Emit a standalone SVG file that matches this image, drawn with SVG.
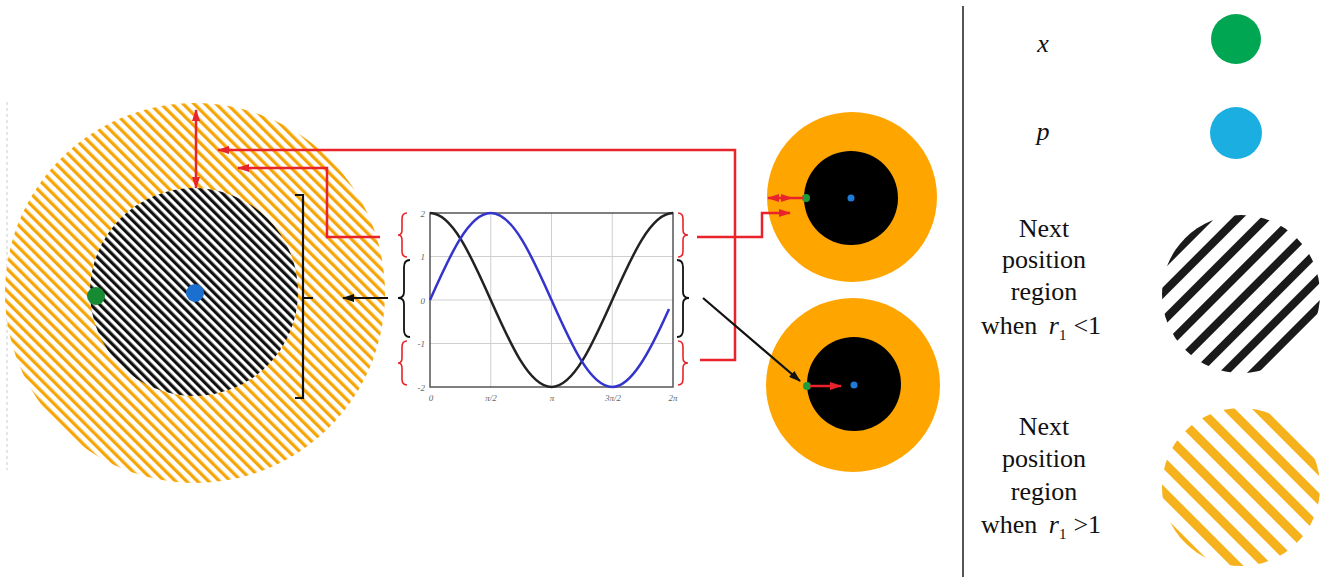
<svg xmlns="http://www.w3.org/2000/svg" width="1329" height="577" viewBox="0 0 1329 577">
<style>
.red{fill:none;stroke:#E8232A;stroke-width:2.5}
.blk{fill:none;stroke:#111;stroke-width:2.2}
.grid{stroke:#cfcfcf;stroke-width:1}
.tick{font-family:"Liberation Serif",serif;font-style:italic;font-size:9px;fill:#666}
.leg{font-family:"Liberation Serif",serif;font-size:26px;fill:#111;text-anchor:middle}
.it{font-style:italic}
</style>
<defs>
<pattern id="hO" width="7.7782" height="7.7782" patternUnits="userSpaceOnUse" patternTransform="rotate(-45)"><rect width="7.7782" height="7.7782" fill="#fff"/><rect width="3.3" height="7.7782" fill="#F6A506"/></pattern>
<pattern id="hB" width="6.364" height="6.364" patternUnits="userSpaceOnUse" patternTransform="rotate(-45)"><rect width="6.364" height="6.364" fill="#fff"/><rect width="3.2" height="6.364" fill="#111"/></pattern>
<pattern id="lB" width="20" height="20" patternUnits="userSpaceOnUse" patternTransform="translate(1241 294) rotate(45)"><rect width="20" height="20" fill="#fff"/><rect width="8" height="20" fill="#1a1a1a"/></pattern>
<pattern id="lO" width="21" height="21" patternUnits="userSpaceOnUse" patternTransform="translate(1241 487) rotate(-45)"><rect width="21" height="21" fill="#fff"/><rect width="9" height="21" fill="#F5B21C"/></pattern>
<marker id="ar" viewBox="0 0 12 8" refX="11" refY="4" markerWidth="12" markerHeight="8" markerUnits="userSpaceOnUse" orient="auto-start-reverse"><path d="M0,0 L12,4 L0,8 Z" fill="#E8232A"/></marker>
<marker id="ak" viewBox="0 0 12 8" refX="11" refY="4" markerWidth="12" markerHeight="8" markerUnits="userSpaceOnUse" orient="auto"><path d="M0,0 L12,4 L0,8 Z" fill="#111"/></marker>
</defs>
<rect width="1329" height="577" fill="#fff"/>

<g id="left-region">
<line x1="7" y1="102" x2="7" y2="470" stroke="#ddd" stroke-width="1.5" stroke-dasharray="3 3"/>
<circle cx="195" cy="293" r="190" fill="url(#hO)"/>
<circle cx="194" cy="292" r="104" fill="url(#hB)"/>
<circle cx="96" cy="296" r="9" fill="#178A34"/>
<circle cx="195" cy="293" r="9" fill="#1B6FCF"/>
<path class="blk" d="M295,195 H303 V398 H295 M303,298 H313"/>
</g>

<g id="graph">
<rect x="430" y="213" width="243" height="174" fill="#fff"/>
<g class="grid">
<line x1="490.75" y1="213" x2="490.75" y2="387"/><line x1="551.5" y1="213" x2="551.5" y2="387"/><line x1="612.25" y1="213" x2="612.25" y2="387"/>
<line x1="430" y1="256.5" x2="673" y2="256.5"/><line x1="430" y1="300" x2="673" y2="300"/><line x1="430" y1="343.5" x2="673" y2="343.5"/>
</g>
<rect x="430" y="213" width="243" height="174" fill="none" stroke="#555" stroke-width="1.5"/>
<path d="M430,213 C451.99,213 470.94,255.43 490.75,300 C510.56,344.57 529.51,387 551.5,387 C573.49,387 592.44,344.57 612.25,300 C632.06,255.43 651.01,213 673,213" fill="none" stroke="#222" stroke-width="2.5"/>
<path d="M430,300 C449.81,255.43 468.76,213 490.75,213 C512.74,213 531.69,255.43 551.5,300 C571.31,344.57 590.26,387 612.25,387 C631.25,387 650,351.6 669,309" fill="none" stroke="#3434CC" stroke-width="2.5"/>
<text class="tick" x="425" y="217" text-anchor="end">2</text>
<text class="tick" x="425" y="260" text-anchor="end">1</text>
<text class="tick" x="425" y="304" text-anchor="end">0</text>
<text class="tick" x="425" y="347" text-anchor="end">-1</text>
<text class="tick" x="425" y="391" text-anchor="end">-2</text>
<text class="tick" x="431" y="401" text-anchor="middle">0</text>
<text class="tick" x="491" y="401" text-anchor="middle">π/2</text>
<text class="tick" x="552" y="401" text-anchor="middle">π</text>
<text class="tick" x="613" y="401" text-anchor="middle">3π/2</text>
<text class="tick" x="673" y="401" text-anchor="middle">2π</text>
<path d="M407,213 Q402,213 402,219 V230 Q402,235 398,235 Q402,235 402,240 V251 Q402,257 407,257" fill="none" stroke="#E8232A" stroke-width="1.6"/>
<path d="M410,260 Q404,260 404,267 V292 Q404,298 398,298 Q404,298 404,304 V330 Q404,337 410,337" fill="none" stroke="#111" stroke-width="1.8"/>
<path d="M407,341 Q402,341 402,347 V358 Q402,363 398,363 Q402,363 402,368 V379 Q402,385 407,385" fill="none" stroke="#E8232A" stroke-width="1.6"/>
<path d="M678,213 Q683,213 683,219 V230 Q683,235 688,235 Q683,235 683,240 V251 Q683,257 678,257" fill="none" stroke="#E8232A" stroke-width="1.6"/>
<path d="M677,260 Q683,260 683,267 V292 Q683,298 689,298 Q683,298 683,304 V330 Q683,337 677,337" fill="none" stroke="#111" stroke-width="1.8"/>
<path d="M678,341 Q683,341 683,347 V358 Q683,363 688,363 Q683,363 683,368 V379 Q683,385 678,385" fill="none" stroke="#E8232A" stroke-width="1.6"/>
</g>

<g id="circle-top-right">
<circle cx="852" cy="197" r="85" fill="#FFA500"/>
<circle cx="851" cy="198" r="47" fill="#000"/>
<circle cx="806" cy="198" r="4" fill="#1E9B3A"/>
<circle cx="851" cy="198" r="3.5" fill="#1E7BD8"/>
</g>

<g id="circle-bottom-right">
<circle cx="853" cy="385" r="87" fill="#FFA500"/>
<circle cx="854" cy="384" r="47" fill="#000"/>
<circle cx="807" cy="386" r="4" fill="#1E9B3A"/>
<circle cx="854" cy="385" r="3.5" fill="#1E7BD8"/>
</g>

<g id="connectors">
<path class="red" d="M700,360 H735 V150 H218" marker-end="url(#ar)"/>
<path class="red" d="M380,237 H327 V168 H238" marker-end="url(#ar)"/>
<path class="red" d="M196,110 V188" marker-start="url(#ar)" marker-end="url(#ar)"/>
<path class="red" d="M697,237 H762 V213 H790" marker-end="url(#ar)"/>
<path class="red" d="M768,198 H792" marker-start="url(#ar)" marker-end="url(#ar)"/>
<path class="red" d="M792,198 H803"/>
<path class="red" d="M810,386 H841" marker-end="url(#ar)"/>
<path class="blk" d="M388,298 H343" marker-end="url(#ak)"/>
<path class="blk" d="M703,298 L800,381" marker-end="url(#ak)"/>
</g>

<g id="legend">
<line x1="963" y1="6" x2="963" y2="577" stroke="#555" stroke-width="2"/>
<g id="legend-x">
<text class="leg it" x="1043" y="52">x</text>
<circle cx="1236" cy="39" r="25" fill="#00A651"/>
</g>
<g id="legend-p">
<text class="leg it" x="1043" y="140">p</text>
<circle cx="1236" cy="133" r="26" fill="#1AAFE0"/>
</g>
<g id="legend-black">
<text class="leg" x="1044" y="237">Next</text>
<text class="leg" x="1044" y="268">position</text>
<text class="leg" x="1044" y="300">region</text>
<text class="leg" x="1041" y="334">when <tspan class="it" dx="5">r</tspan><tspan font-size="15" dy="6">1</tspan><tspan dy="-6" dx="7">&lt;1</tspan></text>
<circle cx="1241" cy="294" r="79" fill="url(#lB)"/>
</g>
<g id="legend-orange">
<text class="leg" x="1044" y="435">Next</text>
<text class="leg" x="1044" y="467">position</text>
<text class="leg" x="1044" y="500">region</text>
<text class="leg" x="1041" y="533">when <tspan class="it" dx="5">r</tspan><tspan font-size="15" dy="6">1</tspan><tspan dy="-6" dx="7">&gt;1</tspan></text>
<circle cx="1241" cy="487" r="79" fill="url(#lO)"/>
</g>
</g>
</svg>
